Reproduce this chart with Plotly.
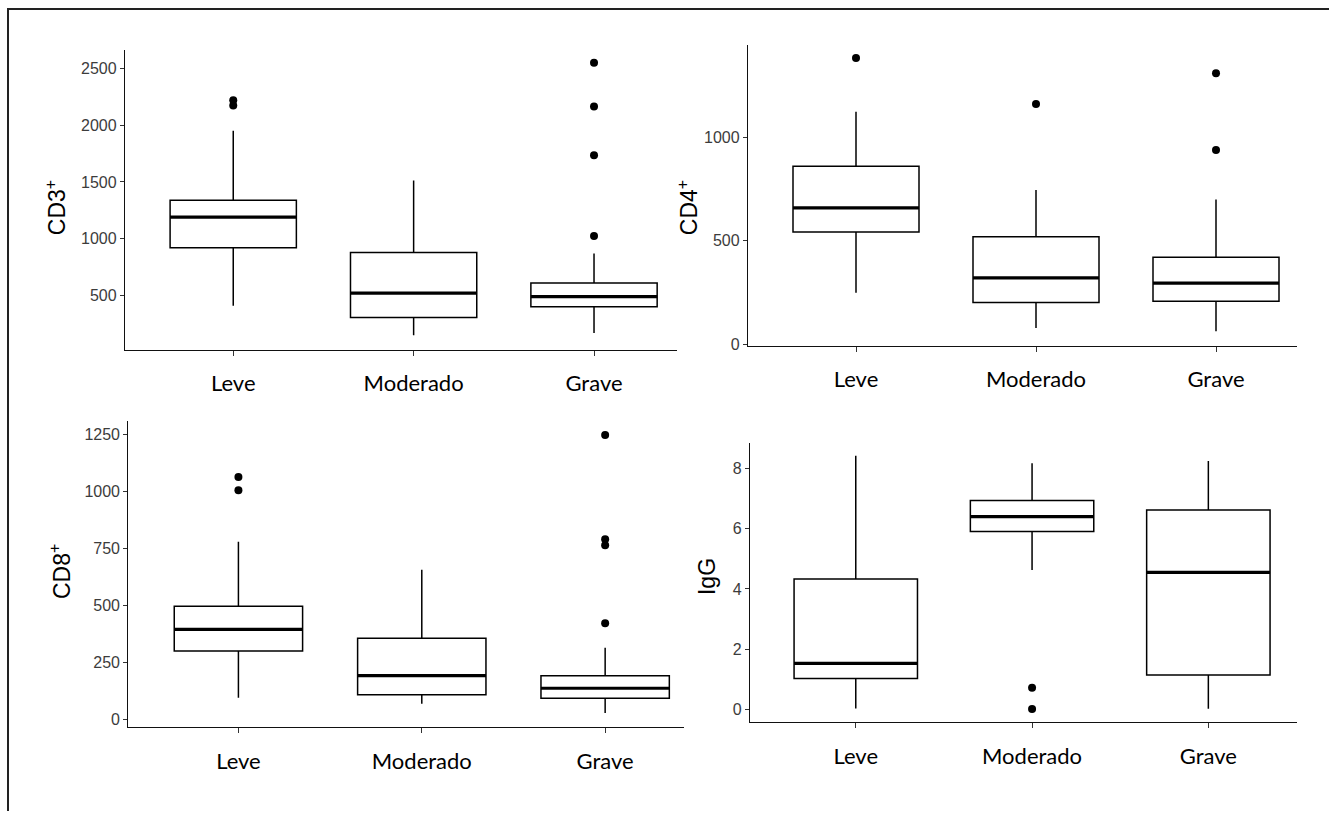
import plotly.graph_objects as go

# ---------------- data ----------------
categories = ["Leve", "Moderado", "Grave"]

cd3_q1 = [919, 302, 398]
cd3_median = [1189, 517, 486]
cd3_q3 = [1337, 877, 608]
cd3_lower = [407, 145, 165]
cd3_upper = [1951, 1512, 868]
cd3_out_cat = ["Leve", "Leve", "Grave", "Grave", "Grave", "Grave"]
cd3_out_val = [2222, 2176, 1023, 1735, 2167, 2552]

cd4_q1 = [542, 201, 207]
cd4_median = [658, 320, 294]
cd4_q3 = [859, 519, 420]
cd4_lower = [248, 77, 62]
cd4_upper = [1123, 745, 698]
cd4_out_cat = ["Leve", "Moderado", "Grave", "Grave"]
cd4_out_val = [1382, 1160, 938, 1308]

cd8_q1 = [301, 109, 94]
cd8_median = [396, 193, 138]
cd8_q3 = [497, 357, 193]
cd8_lower = [96, 70, 29]
cd8_upper = [780, 657, 316]
cd8_out_cat = ["Leve", "Leve", "Grave", "Grave", "Grave", "Grave"]
cd8_out_val = [1064, 1006, 1248, 791, 765, 423]

igg_q1 = [1.03, 5.91, 1.14]
igg_median = [1.53, 6.40, 4.55]
igg_q3 = [4.33, 6.94, 6.62]
igg_lower = [0.03, 4.63, 0.02]
igg_upper = [8.42, 8.17, 8.25]
igg_out_cat = ["Moderado", "Moderado"]
igg_out_val = [0.72, 0.01]

cd3_ticks = [500, 1000, 1500, 2000, 2500]
cd4_ticks = [0, 500, 1000]
cd8_ticks = [0, 250, 500, 750, 1000, 1250]
igg_ticks = [0, 2, 4, 6, 8]

# ---------------- layout helpers ----------------
W, H = 1329, 818
BOX_W = 0.7
pos = {c: i + 1 for i, c in enumerate(categories)}
xpos = [pos[c] for c in categories]

panels = [
    dict(q1=cd3_q1, med=cd3_median, q3=cd3_q3, lo=cd3_lower, hi=cd3_upper,
         oc=cd3_out_cat, ov=cd3_out_val, ticks=cd3_ticks, title="CD3<sup>+</sup>",
         dom=(125, 677, 50, 352.7), xr=[0.4, 3.46], yr=[18, 2669], tpos=(56, 210)),
    dict(q1=cd4_q1, med=cd4_median, q3=cd4_q3, lo=cd4_lower, hi=cd4_upper,
         oc=cd4_out_cat, ov=cd4_out_val, ticks=cd4_ticks, title="CD4<sup>+</sup>",
         dom=(748, 1297, 45, 348.7), xr=[0.4, 3.45], yr=[-8, 1447], tpos=(688, 210)),
    dict(q1=cd8_q1, med=cd8_median, q3=cd8_q3, lo=cd8_lower, hi=cd8_upper,
         oc=cd8_out_cat, ov=cd8_out_val, ticks=cd8_ticks, title="CD8<sup>+</sup>",
         dom=(128.4, 684, 425, 733.3), xr=[0.4, 3.43], yr=[-32, 1308], tpos=(60, 577)),
    dict(q1=igg_q1, med=igg_median, q3=igg_q3, lo=igg_lower, hi=igg_upper,
         oc=igg_out_cat, ov=igg_out_val, ticks=igg_ticks, title="IgG",
         dom=(750, 1296.5, 446.7, 728.3), xr=[0.4, 3.5], yr=[-0.42, 8.85], tpos=(707, 582)),
]

fig = go.Figure()
layout = dict(
    width=W, height=H, margin=dict(l=0, r=0, t=0, b=0),
    paper_bgcolor="white", plot_bgcolor="white", showlegend=False,
    annotations=[], shapes=[],
)

TICK_FONT = dict(family="Liberation Sans, Arial, sans-serif", size=16, color="#3c3c3c")
CAT_FONT = dict(family="Lato, Open Sans, sans-serif", size=22, color="black")
TITLE_FONT = dict(family="Liberation Sans Narrow, Arial Narrow, Liberation Sans, sans-serif",
                  size=23, color="black")

for k, p in enumerate(panels, start=1):
    xa = "x" if k == 1 else f"x{k}"
    ya = "y" if k == 1 else f"y{k}"
    fig.add_trace(go.Box(
        x=xpos, q1=p["q1"], median=p["med"], q3=p["q3"],
        lowerfence=p["lo"], upperfence=p["hi"],
        width=BOX_W, whiskerwidth=0, boxpoints=False,
        fillcolor="white", line=dict(color="black", width=1.5),
        hoverinfo="skip", xaxis=xa, yaxis=ya,
    ))
    mx, my = [], []
    for xp, m in zip(xpos, p["med"]):
        mx += [xp - BOX_W / 2, xp + BOX_W / 2, None]
        my += [m, m, None]
    fig.add_trace(go.Scatter(x=mx, y=my, mode="lines",
                             line=dict(color="black", width=3.2),
                             hoverinfo="skip", xaxis=xa, yaxis=ya))
    fig.add_trace(go.Scatter(x=[pos[c] for c in p["oc"]], y=p["ov"], mode="markers",
                             marker=dict(color="black", size=8),
                             hoverinfo="skip", xaxis=xa, yaxis=ya))

    x0, x1, yt, yb = p["dom"]
    xkey = "xaxis" if k == 1 else f"xaxis{k}"
    ykey = "yaxis" if k == 1 else f"yaxis{k}"
    layout[xkey] = dict(
        domain=[x0 / W, x1 / W], anchor=ya, range=p["xr"],
        tickmode="array", tickvals=xpos, ticktext=categories,
        showline=True, linecolor="#111", linewidth=1.4,
        ticks="outside", ticklen=5, tickcolor="#333", tickwidth=1.2,
        showgrid=False, zeroline=False, tickfont=CAT_FONT, ticklabelstandoff=9,
    )
    layout[ykey] = dict(
        domain=[(H - yb) / H, (H - yt) / H], anchor=xa, range=p["yr"],
        tickmode="array", tickvals=p["ticks"],
        showline=True, linecolor="#111", linewidth=1.4,
        ticks="outside", ticklen=4, tickcolor="#333", tickwidth=1.2,
        showgrid=False, zeroline=False, tickfont=TICK_FONT,
    )
    layout["annotations"].append(dict(
        text=p["title"], textangle=-90, xref="paper", yref="paper",
        x=p["tpos"][0] / W, y=(H - p["tpos"][1]) / H,
        xanchor="center", yanchor="middle", showarrow=False, font=TITLE_FONT,
    ))

# outer frame (top and left edges)
layout["shapes"] += [
    dict(type="line", xref="paper", yref="paper", x0=7 / W, x1=1, y0=(H - 9) / H, y1=(H - 9) / H,
         line=dict(color="#222", width=2)),
    dict(type="line", xref="paper", yref="paper", x0=8 / W, x1=8 / W, y0=0, y1=(H - 9) / H,
         line=dict(color="#222", width=2)),
]

fig.update_layout(**layout)
fig.write_html("out.html", config={"displayModeBar": False},
               post_script="document.body.style.margin='0';document.body.style.overflow='hidden';")
